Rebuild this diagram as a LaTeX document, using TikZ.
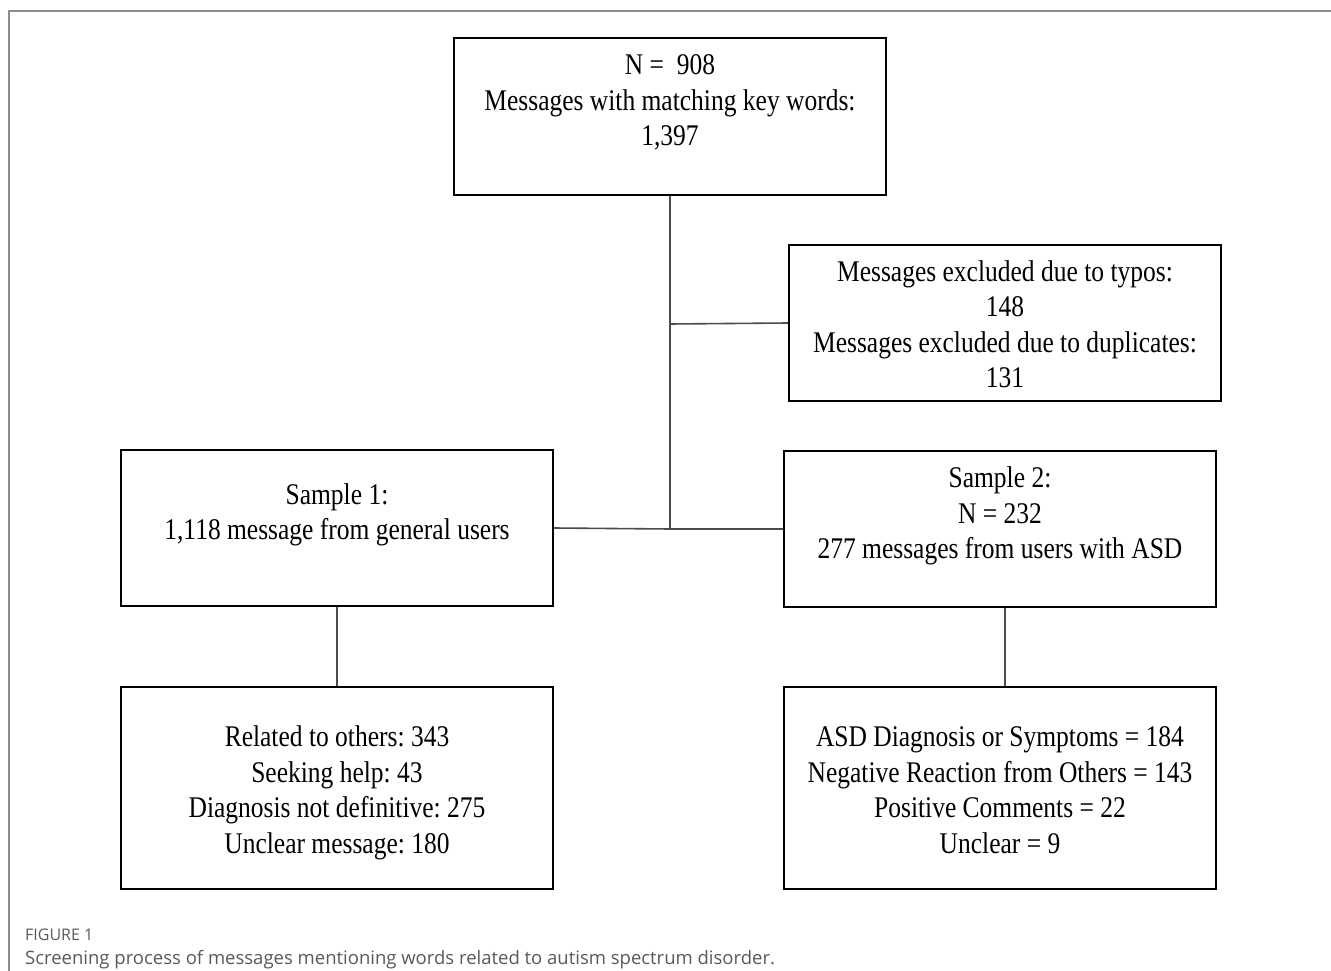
\documentclass[tikz,border=0pt]{standalone}
\usepackage{fontspec}
\setmainfont{Liberation Serif}
\newfontfamily\boxfont[FakeStretch=0.85]{Liberation Serif}
\newfontfamily\capfont{Open Sans}
\begin{document}
\frenchspacing
\begin{tikzpicture}[x=1pt,y=-1pt,
  box/.style={draw=black, line width=2pt, rectangle, minimum width=432pt, inner sep=0pt},
  txt/.style={align=center, font=\boxfont\fontsize{30}{35.5}\selectfont, inner sep=0pt},
  conn/.style={draw=black!70, line width=1.6pt},
  frame/.style={draw=black!45, line width=1.5pt}]
\useasboundingbox (0,0) rectangle (1331,971);
% frame
\draw[frame] (1331,11) -- (9,11) -- (9,971);
% boxes
\node[box, minimum height=157pt] (top) at (670,116.5) {};
\node[box, minimum height=156pt] (excl) at (1005,323) {};
\node[box, minimum height=156pt] (s1) at (337,528) {};
\node[box, minimum height=156pt] (s2) at (1000,529) {};
\node[box, minimum height=202pt] (bl) at (337,788) {};
\node[box, minimum height=202pt] (br) at (1000,788) {};
% texts
\node[txt] (ttop) at (670,103) {\strut N =\ \ 908\\Messages with matching key words:\\1,397\strut};
\node[txt] (texcl) at (1005,327.3) {\strut Messages excluded due to typos:\\148\\Messages excluded due to duplicates:\\131\strut};
\node[txt] (ts1) at (337,514.7) {\strut Sample 1:\\1,118 message from general users\strut};
\node[txt] (ts2) at (1000,516.2) {\strut Sample 2:\\N = 232\\277 messages from users with ASD\strut};
\node[txt] (tbl) at (337,793) {\strut Related to others: 343\\Seeking help: 43\\Diagnosis not definitive: 275\\Unclear message: 180\strut};
\node[txt] (tbr) at (1000,793) {\strut ASD Diagnosis or Symptoms = 184\\Negative Reaction from Others = 143\\Positive Comments = 22\\Unclear = 9\strut};
% connectors
\coordinate (j1) at (670,324);
\coordinate (j2) at (670,529);
\draw[conn] (top.south) -- (j1) -- (j2);
\draw[conn] (j1) -- (excl.west);
\draw[conn] (s1.east) -- (j2) -- (s2.west);
\draw[conn] (s1.south) -- (bl.north);
\draw[conn] ([xshift=5pt]s2.south) -- ([xshift=5pt]br.north);
% caption
\node[anchor=base west, inner sep=0pt, text=black!65, font=\capfont\fontsize{16}{18}\selectfont] (fig) at (25,940) {FIGURE 1};
\node[anchor=base west, inner sep=0pt, text=black!65, font=\capfont\fontsize{18.5}{22}\selectfont] (cap) at (25,964) {Screening process of messages mentioning words related to autism spectrum disorder.};
\end{tikzpicture}
\end{document}
